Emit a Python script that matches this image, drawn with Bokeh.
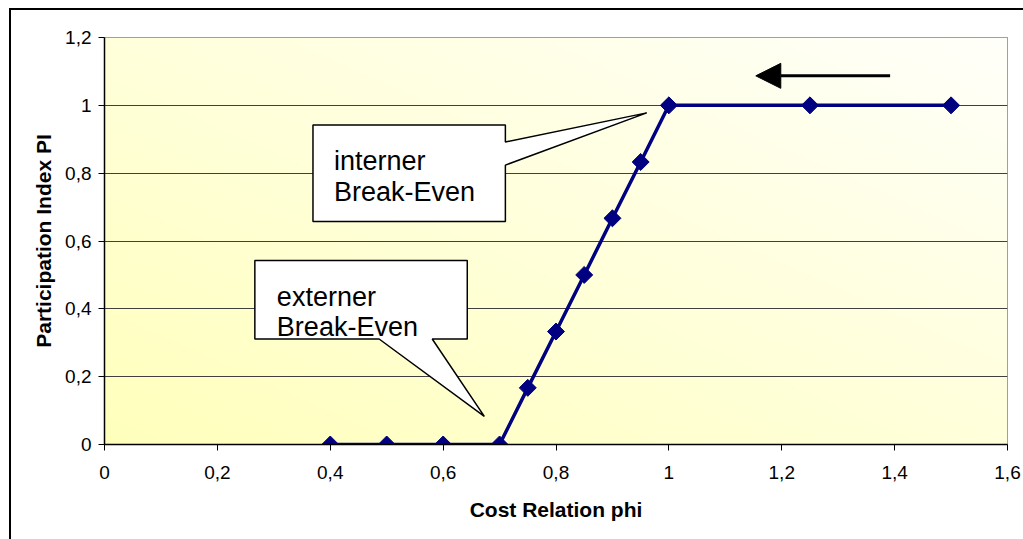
import numpy as np
from bokeh.plotting import figure
from bokeh.models import FixedTicker, Arrow, NormalHead
from bokeh.core.properties import value
from bokeh.embed import file_html
from bokeh.resources import INLINE

# ---- data ----
phi = [0.4, 0.5, 0.6, 0.7, 0.75, 0.8, 0.85, 0.9, 0.95, 1.0, 1.25, 1.5]
pi_index = [0, 0, 0, 0, 0.167, 0.333, 0.5, 0.667, 0.833, 1, 1, 1]
x_ticks = [0, 0.2, 0.4, 0.6, 0.8, 1.0, 1.2, 1.4, 1.6]
x_tick_labels = ["0", "0,2", "0,4", "0,6", "0,8", "1", "1,2", "1,4", "1,6"]
y_ticks = [0, 0.2, 0.4, 0.6, 0.8, 1.0, 1.2]
y_tick_labels = ["0", "0,2", "0,4", "0,6", "0,8", "1", "1,2"]
x_title = "Cost Relation phi"
y_title = "Participation Index PI"
callout_int = ["interner", "Break-Even"]
callout_ext = ["externer", "Break-Even"]

FONT = "Liberation Sans"

p = figure(width=1014, height=531, x_range=(0, 1.6), y_range=(0, 1.2),
           output_backend="svg", toolbar_location=None,
           min_border_left=93, min_border_right=18, min_border_top=27, min_border_bottom=97)
p.margin = (8, 0, 0, 9)
p.styles = {"border-top": "2px solid black", "border-left": "2px solid black", "box-sizing": "border-box"}
p.background_fill_color = "white"
p.border_fill_color = "white"
p.outline_line_color = "#808080"
p.outline_line_width = 1

# gradient background (style only)
n = 120
u = np.linspace(0, 1, n)
U, V = np.meshgrid(u, u)
t = (U + V) / 2
img = np.zeros((n, n), dtype=np.uint32)
view = img.view(dtype=np.uint8).reshape((n, n, 4))
view[:, :, 0] = 255
view[:, :, 1] = 255
view[:, :, 2] = (188 + 62 * t).astype(np.uint8)
view[:, :, 3] = 255
p.image_rgba(image=[img], x=0, y=0, dw=1.6, dh=1.2, level="image")

# axes
p.xaxis.ticker = FixedTicker(ticks=x_ticks)
p.yaxis.ticker = FixedTicker(ticks=y_ticks)
p.xaxis.major_label_overrides = {float(k): v for k, v in zip(x_ticks, x_tick_labels)}
p.yaxis.major_label_overrides = {float(k): v for k, v in zip(y_ticks, y_tick_labels)}
for ax in (p.xaxis, p.yaxis):
    ax.axis_line_color = "black"
    ax.axis_line_width = 1.5
    ax.major_tick_line_color = "black"
    ax.major_tick_line_width = 1
    ax.major_tick_in = 0
    ax.major_tick_out = 6
    ax.minor_tick_line_color = None
    ax.major_label_text_font = FONT
    ax.major_label_text_font_size = "19px"
    ax.major_label_text_color = "black"
    ax.axis_label_text_font = FONT
    ax.axis_label_text_font_size = "21px"
    ax.axis_label_text_font_style = "bold"
    ax.axis_label_text_color = "black"
p.xaxis.axis_label = x_title
p.yaxis.axis_label = y_title
p.xaxis.major_label_standoff = 15
p.yaxis.major_label_standoff = 7
p.xaxis.axis_label_standoff = 16
p.yaxis.axis_label_standoff = 7
p.yaxis.major_label_orientation = "horizontal"

p.xgrid.grid_line_color = None
p.ygrid.grid_line_color = "#404040"
p.ygrid.grid_line_width = 1
p.ygrid.level = "underlay"

# series
p.line(phi, pi_index, line_color="#000080", line_width=3.5)
p.scatter(phi, pi_index, marker="square", size=12, angle=np.pi / 4,
          fill_color="#000080", line_color="#000080")

# callouts (annotation shapes)
int_x = [0.3694, 0.7103, 0.7103, 0.9607, 0.7103, 0.7103, 0.3694]
int_y = [0.9422, 0.9422, 0.8919, 0.9778, 0.8237, 0.6578, 0.6578]
p.patch(int_x, int_y, fill_color="white", line_color="black", line_width=1.5)
ext_x = [0.2664, 0.6428, 0.6428, 0.5807, 0.6730, 0.4866, 0.2664]
ext_y = [0.5422, 0.5422, 0.3111, 0.3111, 0.0830, 0.3111, 0.3111]
p.patch(ext_x, ext_y, fill_color="white", line_color="black", line_width=1.5)

p.text(x=[0.4067, 0.4067], y=[0.8356, 0.7437], text=callout_int,
       text_font=value(FONT), text_font_size="27px", text_color="black",
       text_baseline="alphabetic", text_align="left")
p.text(x=[0.3054, 0.3054], y=[0.4356, 0.3467], text=callout_ext,
       text_font=value(FONT), text_font_size="27px", text_color="black",
       text_baseline="alphabetic", text_align="left")

# direction arrow
p.add_layout(Arrow(end=NormalHead(size=25, fill_color="black", line_color="black"),
                   x_start=1.392, y_start=1.087, x_end=1.154, y_end=1.087,
                   line_color="black", line_width=3))

open("out.html", "w").write(file_html(p, INLINE))
